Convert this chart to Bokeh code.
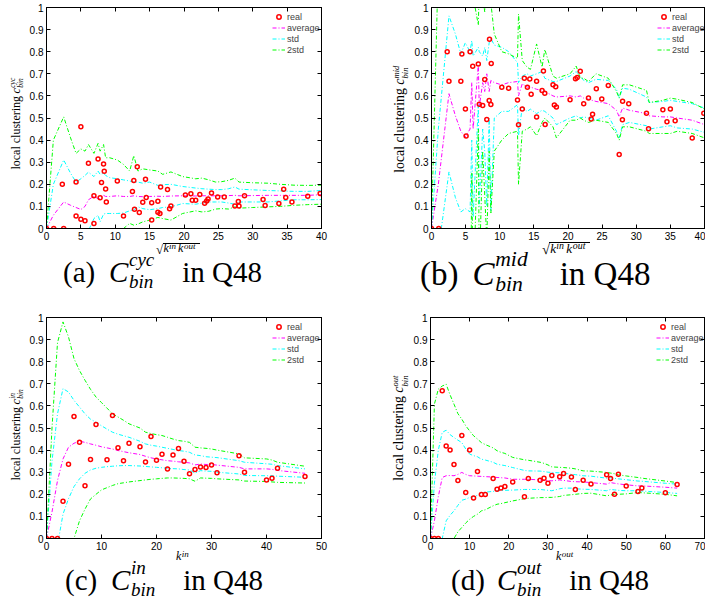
from bokeh.plotting import figure
from bokeh.models import Range1d, FixedTicker, LinearAxis, Legend, LegendItem, Div
from bokeh.layouts import column, row
from bokeh.embed import file_html
from bokeh.resources import INLINE

SANS = "Liberation Sans"
SERIF = "Liberation Serif"

Y_TICKS = [0, 0.1, 0.2, 0.3, 0.4, 0.5, 0.6, 0.7, 0.8, 0.9, 1]
Y_TICK_LABELS = ["0", "0.1", "0.2", "0.3", "0.4", "0.5", "0.6", "0.7", "0.8", "0.9", "1"]
LEGEND_LABELS = ["real", "average", "std", "2std"]

# ---------------- panel (a): C_bin^cyc ----------------
a_xticks = [0, 5, 10, 15, 20, 25, 30, 35, 40]
a_real_x = [0, 1.05, 2.5, 2.3, 4.3, 4.3, 5.0, 5.0, 5.6, 6.1, 6.9, 6.9, 7.5, 7.8, 8.0, 8.3,
            8.4, 8.6, 8.7, 10.3, 11.2, 12.5, 12.7, 12.8, 13.2, 13.5, 14.0, 14.4, 14.5, 15.3,
            15.3, 16.2, 16.2, 16.5, 16.6, 17.6, 17.9, 18.1, 20.2, 21.0, 21.2, 21.7, 22.3, 23.0,
            23.3, 23.5, 24.0, 24.9, 25.85, 27.4, 27.9, 28.0, 28.8, 31.5, 31.8, 33.8, 34.5, 34.8,
            35.7, 38.0, 39.8]
a_real_y = [0, 0, 0, 0.20, 0.21, 0.057, 0.46, 0.042, 0.035, 0.295, 0.148, 0.023, 0.315, 0.139,
            0.208, 0.292, 0.259, 0.179, 0.12, 0.215, 0.057, 0.167, 0.217, 0.087, 0.279, 0.072,
            0.119, 0.223, 0.14, 0.117, 0.038, 0.074, 0.123, 0.068, 0.188, 0.176, 0.089, 0.102,
            0.152, 0.157, 0.128, 0.128, 0.154, 0.114, 0.125, 0.134, 0.161, 0.143, 0.142, 0.102,
            0.122, 0.102, 0.148, 0.131, 0.104, 0.113, 0.178, 0.14, 0.12, 0.146, 0.158]
a_line_x = [0, 1, 2.5, 3.5, 4.3, 5.0, 5.6, 6.1, 6.9, 7.5, 7.8, 8.3, 8.6, 9.2, 10.3, 11.2, 12.1,
            12.7, 13.3, 14.0, 15.0, 16.2, 16.9, 18.1, 19.8, 21.7, 22.6, 23.6, 24.6, 25.5, 26.5,
            27.4, 28.0, 30, 32.2, 34, 36, 38, 40]
a_avg = [0, 0.06, 0.12, 0.105, 0.095, 0.086, 0.10, 0.13, 0.146, 0.135, 0.136, 0.15, 0.145,
         0.145, 0.148, 0.145, 0.145, 0.148, 0.145, 0.144, 0.145, 0.146, 0.145, 0.147, 0.148,
         0.147, 0.148, 0.148, 0.148, 0.148, 0.149, 0.15, 0.148, 0.149, 0.15, 0.15, 0.15, 0.15,
         0.153]
a_std_up = [0, 0.2, 0.31, 0.25, 0.21, 0.225, 0.24, 0.255, 0.235, 0.26, 0.245, 0.25, 0.24, 0.23,
            0.225, 0.22, 0.215, 0.21, 0.21, 0.205, 0.21, 0.195, 0.198, 0.2, 0.19, 0.183, 0.18,
            0.178, 0.176, 0.176, 0.18, 0.188, 0.178, 0.175, 0.172, 0.17, 0.168, 0.168, 0.172]
a_std_lo = [0, -0.08, -0.07, -0.06, -0.04, -0.05, -0.04, -0.01, 0.045, 0.06, 0.03, 0.065, 0.068,
            0.068, 0.068, 0.07, 0.08, 0.085, 0.098, 0.09, 0.085, 0.09, 0.095, 0.098, 0.113, 0.11,
            0.115, 0.12, 0.12, 0.12, 0.115, 0.11, 0.12, 0.12, 0.12, 0.125, 0.13, 0.13, 0.131]
a_2std_up = [0, 0.40, 0.505, 0.41, 0.34, 0.36, 0.35, 0.38, 0.34, 0.385, 0.35, 0.38, 0.32, 0.32,
             0.31, 0.29, 0.26, 0.33, 0.26, 0.27, 0.265, 0.26, 0.245, 0.256, 0.235, 0.225, 0.228,
             0.22, 0.21, 0.212, 0.218, 0.228, 0.21, 0.207, 0.205, 0.2, 0.196, 0.195, 0.196]
a_2std_lo = [0, -0.25, -0.3, -0.25, -0.2, -0.2, -0.18, -0.15, -0.1, -0.08, -0.1, -0.06, -0.05,
             -0.04, -0.02, 0.0, 0.023, 0.015, 0.02, 0.03, 0.038, 0.05, 0.045, 0.038, 0.068, 0.08,
             0.075, 0.078, 0.088, 0.09, 0.088, 0.098, 0.092, 0.095, 0.098, 0.1, 0.105, 0.108, 0.11]

# ---------------- panel (b): C_bin^mid ----------------
b_xticks = [0, 5, 10, 15, 20, 25, 30, 35, 40]
b_real_x = [0, 1.06, 2.3, 2.56, 4.3, 4.45, 4.97, 5.07, 5.65, 6.04, 6.86, 7.0, 7.5, 7.8, 8.1,
            8.45, 8.5, 8.7, 8.75, 10.3, 11.3, 12.6, 12.75, 13.3, 13.6, 14.05, 14.4, 14.6, 15.4,
            15.4, 16.2, 16.4, 16.6, 16.65, 17.8, 18.0, 18.2, 18.3, 20.3, 21.1, 21.35, 21.8, 22.3,
            23.0, 23.4, 23.6, 24.15, 24.95, 25.9, 27.5, 27.97, 28.0, 28.9, 31.5, 31.8, 33.9,
            35.0, 34.5, 35.7, 38.2, 39.9]
b_real_y = [0, 0, 0.80, 0.666, 0.666, 0.79, 0.541, 0.418, 0.80, 0.734, 0.744, 0.562, 0.556,
            0.674, 0.493, 0.579, 0.856, 0.561, 0.747, 0.639, 0.635, 0.582, 0.469, 0.541, 0.68,
            0.639, 0.677, 0.607, 0.666, 0.504, 0.624, 0.713, 0.612, 0.471, 0.65, 0.559, 0.641,
            0.55, 0.583, 0.678, 0.683, 0.711, 0.565, 0.591, 0.495, 0.517, 0.632, 0.586, 0.647,
            0.335, 0.492, 0.576, 0.564, 0.522, 0.451, 0.537, 0.541, 0.483, 0.487, 0.409, 0.522]
b_line_x = [0, 1, 2.56, 3.5, 4.3, 4.95, 5.65, 5.9, 6.1, 6.86, 7.0, 7.5, 7.8, 8.1, 8.45, 8.7,
            9.2, 10.3, 11.3, 12.6, 12.75, 13.3, 14.0, 14.5, 15.4, 16.2, 16.6, 17.8, 18.3, 20.3,
            21.2, 21.8, 22.3, 23.0, 24.1, 25.9, 27.1, 27.5, 28.0, 29.0, 31.5, 31.9, 33.9, 35.0,
            36.0, 38.2, 40]
b_avg = [0, 0.2, 0.61, 0.51, 0.44, 0.415, 0.45, 0.66, 0.45, 0.74, 0.55, 0.66, 0.62, 0.70, 0.62,
         0.67, 0.66, 0.65, 0.66, 0.665, 0.60, 0.655, 0.64, 0.64, 0.63, 0.625, 0.62, 0.60, 0.595,
         0.60, 0.595, 0.60, 0.59, 0.585, 0.575, 0.565, 0.535, 0.505, 0.545, 0.535, 0.52, 0.51,
         0.505, 0.505, 0.50, 0.49, 0.47]
b_std_up = [0, 0.45, 0.962, 0.88, 0.79, 0.84, 0.80, 0.85, 0.78, 0.82, 0.80, 0.78, 0.82, 0.76,
            0.84, 0.86, 0.83, 0.82, 0.80, 0.75, 0.66, 0.69, 0.70, 0.69, 0.70, 0.71, 0.68, 0.665,
            0.665, 0.69, 0.71, 0.69, 0.67, 0.66, 0.675, 0.67, 0.63, 0.59, 0.635, 0.63, 0.595,
            0.57, 0.575, 0.58, 0.575, 0.565, 0.545]
b_std_lo = [0, -0.1, 0.256, 0.14, 0.075, 0.09, 0.075, 0.40, 0.05, 0.56, 0.10, 0.45, 0.35, 0.10,
            0.50, 0.08, 0.50, 0.53, 0.53, 0.56, 0.42, 0.55, 0.53, 0.54, 0.52, 0.535, 0.53, 0.50,
            0.47, 0.50, 0.51, 0.50, 0.505, 0.50, 0.49, 0.51, 0.44, 0.41, 0.47, 0.48, 0.465, 0.45,
            0.46, 0.465, 0.455, 0.45, 0.435]
b_2std_up = [0, 1.2, 1.35, 1.25, 1.1, 1.15, 1.1, 1.1, 1.05, 0.92, 1.1, 1.05, 0.98, 1.1, 1.05,
             1.02, 0.88, 0.80, 0.79, 0.77, 0.97, 0.76, 0.73, 0.72, 0.835, 0.73, 0.81, 0.69, 0.68,
             0.70, 0.735, 0.68, 0.68, 0.665, 0.70, 0.68, 0.62, 0.59, 0.65, 0.65, 0.625, 0.57,
             0.58, 0.59, 0.585, 0.57, 0.54]
b_2std_lo = [0, -0.3, -0.45, -0.6, -0.65, -0.6, -0.65, 0.25, -0.3, 0.45, -0.2, 0.35, 0.15,
             -0.05, 0.35, 0.07, 0.35, 0.40, 0.43, 0.44, 0.20, 0.44, 0.45, 0.46, 0.42, 0.48, 0.50,
             0.46, 0.41, 0.49, 0.49, 0.50, 0.49, 0.48, 0.49, 0.48, 0.43, 0.40, 0.46, 0.46, 0.44,
             0.43, 0.43, 0.43, 0.44, 0.43, 0.41]

# ---------------- panel (c): C_bin^in ----------------
c_xticks = [0, 10, 20, 30, 40, 50]
c_real_x = [0, 1, 2, 3, 4, 5, 6, 7, 8, 9, 11, 12, 13, 14, 15, 17, 18, 19, 20, 21, 22, 23, 24,
            25, 26, 27, 28, 29, 30, 31, 35, 36, 40, 41, 42, 47]
c_real_y = [0, 0, 0, 0.168, 0.336, 0.552, 0.436, 0.239, 0.358, 0.516, 0.356, 0.557, 0.411,
            0.352, 0.431, 0.415, 0.346, 0.461, 0.354, 0.381, 0.315, 0.378, 0.407, 0.349, 0.293,
            0.312, 0.324, 0.321, 0.333, 0.298, 0.375, 0.30, 0.265, 0.273, 0.318, 0.281]
c_line_x = [0, 1, 2, 3, 4, 5, 6, 7, 8, 9, 10, 11, 12, 13, 14, 15, 17, 18, 19, 20, 21, 22, 23,
            24, 25, 26, 27, 28, 29, 30, 31, 35, 36, 40, 41, 42, 47]
c_avg = [0, 0.12, 0.262, 0.36, 0.413, 0.431, 0.44, 0.435, 0.428, 0.422, 0.415, 0.41, 0.405,
         0.398, 0.393, 0.388, 0.38, 0.372, 0.365, 0.36, 0.356, 0.352, 0.35, 0.347, 0.345, 0.342,
         0.333, 0.337, 0.335, 0.335, 0.332, 0.322, 0.315, 0.315, 0.313, 0.308, 0.295]
c_std_up = [0, 0.35, 0.564, 0.678, 0.663, 0.625, 0.595, 0.564, 0.54, 0.526, 0.51, 0.495, 0.481,
            0.472, 0.465, 0.458, 0.44, 0.428, 0.422, 0.418, 0.413, 0.408, 0.403, 0.398, 0.395,
            0.39, 0.378, 0.375, 0.37, 0.368, 0.366, 0.352, 0.345, 0.338, 0.336, 0.33, 0.315]
c_std_lo = [0, -0.1, -0.03, 0.11, 0.18, 0.235, 0.27, 0.295, 0.31, 0.318, 0.322, 0.325, 0.327,
            0.329, 0.33, 0.33, 0.328, 0.326, 0.324, 0.322, 0.32, 0.318, 0.316, 0.315, 0.312,
            0.31, 0.296, 0.307, 0.305, 0.304, 0.30, 0.292, 0.285, 0.284, 0.284, 0.282, 0.277]
c_2std_up = [0, 0.5, 0.886, 0.98, 0.912, 0.814, 0.76, 0.716, 0.675, 0.64, 0.615, 0.59, 0.564,
             0.55, 0.535, 0.519, 0.50, 0.481, 0.475, 0.47, 0.466, 0.458, 0.45, 0.443, 0.44,
             0.435, 0.413, 0.41, 0.408, 0.405, 0.40, 0.383, 0.365, 0.36, 0.355, 0.345, 0.327]
c_2std_lo = [0, -0.4, -0.4, -0.25, -0.1, 0.0, 0.08, 0.133, 0.179, 0.2, 0.22, 0.23, 0.24, 0.248,
             0.252, 0.256, 0.262, 0.265, 0.268, 0.27, 0.272, 0.274, 0.274, 0.273, 0.272, 0.27,
             0.259, 0.274, 0.273, 0.272, 0.27, 0.265, 0.26, 0.258, 0.256, 0.254, 0.251]

# ---------------- panel (d): C_bin^out ----------------
d_xticks = [0, 10, 20, 30, 40, 50, 60, 70]
d_real_x = [0, 1, 2, 3, 4, 5, 6, 7, 8, 9, 10, 11, 12, 13, 14, 16, 17, 18, 19, 21, 24, 25, 28,
            29, 30, 31, 33, 34, 36, 37, 39, 41, 45, 46, 47, 48, 50, 53, 54, 60, 63]
d_real_y = [0, 0, 0, 0.668, 0.418, 0.401, 0.335, 0.262, 0.466, 0.208, 0.401, 0.183, 0.303,
            0.199, 0.199, 0.271, 0.223, 0.229, 0.235, 0.256, 0.189, 0.271, 0.264, 0.273, 0.25,
            0.285, 0.279, 0.294, 0.278, 0.222, 0.264, 0.247, 0.288, 0.271, 0.2, 0.291, 0.237,
            0.213, 0.228, 0.207, 0.244]
d_line_x = [0, 1, 2, 3, 4, 5, 6, 7, 8, 9, 10, 11, 12, 13, 14, 16, 17, 18, 19, 21, 24, 25, 28,
            29, 30, 31, 33, 34, 36, 37, 39, 41, 45, 46, 47, 48, 50, 53, 54, 60, 63]
d_avg = [0, 0.08, 0.19, 0.276, 0.284, 0.285, 0.284, 0.29, 0.299, 0.29, 0.284, 0.283, 0.282,
         0.281, 0.28, 0.278, 0.276, 0.275, 0.274, 0.268, 0.268, 0.268, 0.265, 0.263, 0.262,
         0.261, 0.265, 0.263, 0.258, 0.257, 0.256, 0.253, 0.246, 0.253, 0.25, 0.247, 0.243,
         0.238, 0.238, 0.232, 0.228]
d_std_up = [0, 0.25, 0.4, 0.48, 0.49, 0.47, 0.457, 0.445, 0.434, 0.405, 0.382, 0.375, 0.37,
            0.359, 0.355, 0.345, 0.336, 0.333, 0.33, 0.321, 0.308, 0.306, 0.305, 0.303, 0.30,
            0.299, 0.297, 0.296, 0.29, 0.289, 0.284, 0.282, 0.273, 0.275, 0.272, 0.27, 0.266,
            0.26, 0.259, 0.25, 0.246]
d_std_lo = [0, -0.1, -0.05, 0.0, 0.08, 0.105, 0.125, 0.15, 0.173, 0.178, 0.186, 0.19, 0.195,
            0.208, 0.21, 0.213, 0.216, 0.217, 0.218, 0.219, 0.222, 0.222, 0.222, 0.22, 0.218,
            0.216, 0.225, 0.228, 0.228, 0.225, 0.223, 0.222, 0.216, 0.222, 0.22, 0.218, 0.216,
            0.216, 0.215, 0.208, 0.204]
d_2std_up = [0, 0.608, 0.676, 0.69, 0.698, 0.65, 0.608, 0.565, 0.54, 0.51, 0.487, 0.465, 0.45,
             0.434, 0.425, 0.41, 0.397, 0.39, 0.385, 0.367, 0.356, 0.354, 0.345, 0.34, 0.333,
             0.324, 0.322, 0.321, 0.318, 0.315, 0.306, 0.305, 0.299, 0.296, 0.293, 0.288, 0.283,
             0.276, 0.273, 0.26, 0.253]
d_2std_lo = [0, -0.4, -0.35, -0.3, -0.15, -0.07, 0.0, 0.03, 0.05, 0.07, 0.087, 0.1, 0.11, 0.125,
             0.13, 0.148, 0.155, 0.158, 0.162, 0.17, 0.18, 0.182, 0.185, 0.185, 0.186, 0.186,
             0.19, 0.195, 0.198, 0.2, 0.204, 0.205, 0.193, 0.197, 0.2, 0.2, 0.202, 0.208, 0.207,
             0.2, 0.193]

DASH = "4 2 1 2"


def span(x, yb, text, size, italic=False, rotate=False, lh=0.75):
    """HTML text piece whose baseline starts at (x, yb) in the Div's own pixels."""
    base = (lh + 0.675) / 2 * size   # baseline offset of Liberation Serif in its line box
    top = yb - base
    st = (f"position:absolute;left:{x:.2f}px;top:{top:.2f}px;font-family:'{SERIF}';"
          f"font-size:{size:.2f}px;line-height:{lh};white-space:nowrap;color:black;"
          f"font-style:{'italic' if italic else 'normal'};")
    if rotate:
        st += f"transform-origin:0px {base:.2f}px;transform:rotate(-90deg);"
    return f'<span style="{st}">{text}</span>'


def hbar(x0, x1, y, th):
    return (f'<span style="position:absolute;left:{x0:.2f}px;top:{y:.2f}px;'
            f'width:{x1 - x0:.2f}px;height:{th:.2f}px;background:black;"></span>')


def box(w, h, parts):
    html = f'<div style="position:relative;width:{w}px;height:{h}px;">' + "".join(parts) + "</div>"
    return Div(text=html, width=w, height=h, margin=0)


def ylabel_div(w, h, bx, y0, sup, sub, s=1.0):
    f = 12 * s
    fs = 7.5 * s
    w_main = 6.388 * f
    parts = [span(bx, y0, "local clustering", f, rotate=True),
             span(bx, y0 - w_main, "c", f, italic=True, rotate=True),
             span(bx - 5.0 * s, y0 - w_main - 5.6 * s, sup, fs, italic=True, rotate=True, lh=0.6),
             span(bx + 3.4 * s, y0 - w_main - 5.6 * s, sub, fs, italic=True, rotate=True, lh=0.6)]
    return box(w, h, parts)


def caption_parts(x0, yb, letter, sup, sup_w, s=1.0):
    f = 29 * s
    fs = 19 * s
    w = max(sup_w, 1.278) * fs
    return [span(x0, yb, f"({letter})", f),
            span(x0 + 46 * s, yb, "C", f, italic=True),
            span(x0 + 66 * s, yb - 17 * s, sup, fs, italic=True, lh=0.6),
            span(x0 + 66 * s, yb + 5 * s, "bin", fs, italic=True, lh=0.6),
            span(x0 + 94 * s + w, yb, "in Q48", f)]


def sqrt_parts(x0, yb, s=1.0):
    return [span(x0, yb + 1 * s, "\u221a", 13 * s, lh=0.6),
            hbar(x0 + 6.5 * s, x0 + 44 * s, yb - 10.3 * s, 1.0 * s),
            span(x0 + 7.6 * s, yb, "k", 12 * s, italic=True),
            span(x0 + 13 * s, yb - 3.5 * s, "in", 9 * s, italic=True, lh=0.6),
            span(x0 + 22 * s, yb, "k", 12 * s, italic=True),
            span(x0 + 28 * s, yb - 3.5 * s, "out", 9 * s, italic=True, lh=0.6)]


def k_parts(x0, yb, sup):
    return [span(x0, yb, "k", 12, italic=True),
            span(x0 + 5.8, yb - 3.5, sup, 9, italic=True, lh=0.6)]


def panel(width, height, bl, br, bt, bb, xmax, xticks, rx, ry, lx, avg, sup, slo, s2up, s2lo):
    p = figure(width=width, height=height, x_range=Range1d(0, xmax), y_range=Range1d(0, 1),
               output_backend="svg", toolbar_location=None,
               min_border_left=bl, min_border_right=br, min_border_top=bt,
               min_border_bottom=bb, background_fill_color="white",
               border_fill_color="white")
    p.xgrid.visible = False
    p.ygrid.visible = False
    p.outline_line_color = "black"
    p.outline_line_width = 1
    for ax, ticks, labels in ((p.xaxis[0], xticks, None), (p.yaxis[0], Y_TICKS, Y_TICK_LABELS)):
        ax.ticker = FixedTicker(ticks=ticks)
        if labels:
            ax.major_label_overrides = {t: s for t, s in zip(ticks, labels)}
        ax.major_tick_in = 4
        ax.major_tick_out = 0
        ax.minor_tick_line_color = None
        ax.axis_line_color = "black"
        ax.major_tick_line_color = "black"
        ax.major_label_text_font = SANS
        ax.major_label_text_font_size = "10px"
        ax.major_label_text_color = "black"
        ax.major_label_standoff = 3
    top = LinearAxis(ticker=FixedTicker(ticks=xticks),
                     major_label_overrides={t: "" for t in xticks},
                     major_tick_in=4, major_tick_out=0, minor_tick_line_color=None,
                     major_label_standoff=0, major_label_text_font_size="1px")
    right = LinearAxis(ticker=FixedTicker(ticks=Y_TICKS),
                       major_label_overrides={t: "" for t in Y_TICKS},
                       major_tick_in=4, major_tick_out=0, minor_tick_line_color=None,
                       major_label_standoff=0, major_label_text_font_size="1px")
    p.add_layout(top, "above")
    p.add_layout(right, "right")

    r_avg = p.line(lx, avg, line_color="#ff00ff", line_width=1, line_dash=DASH)
    r_su = p.line(lx, sup, line_color="#00ffff", line_width=1, line_dash=DASH)
    p.line(lx, slo, line_color="#00ffff", line_width=1, line_dash=DASH)
    r_2u = p.line(lx, s2up, line_color="#00ff00", line_width=1, line_dash=DASH)
    p.line(lx, s2lo, line_color="#00ff00", line_width=1, line_dash=DASH)
    r_pts = p.scatter(rx, ry, marker="circle", size=4, fill_color=None,
                      line_color="#ff0000", line_width=1.5)

    legend = Legend(items=[LegendItem(label=LEGEND_LABELS[0], renderers=[r_pts]),
                           LegendItem(label=LEGEND_LABELS[1], renderers=[r_avg]),
                           LegendItem(label=LEGEND_LABELS[2], renderers=[r_su]),
                           LegendItem(label=LEGEND_LABELS[3], renderers=[r_2u])],
                    location=(226, 173), border_line_color=None, background_fill_alpha=0,
                    label_text_font=SANS, label_text_font_size="9px", glyph_width=13,
                    glyph_height=11, label_height=11, spacing=0, padding=0, margin=0,
                    label_standoff=2)
    p.add_layout(legend)
    return p


# column widths: [y-label strip | figure]
WA, WB, WC, WD = 26, 59, 26, 58
H1, H2 = 244, 250   # figure heights (rows 1, 2)

pa = panel(352 - WA, H1, 17, 31, 7, 16, 40, a_xticks, a_real_x, a_real_y, a_line_x,
           a_avg, a_std_up, a_std_lo, a_2std_up, a_2std_lo)
pb = panel(353 - WB, H1, 17, 1, 7, 16, 40, b_xticks, b_real_x, b_real_y, b_line_x,
           b_avg, b_std_up, b_std_lo, b_2std_up, b_2std_lo)
pc = panel(352 - WC, H2, 17, 31, 13, 16, 50, c_xticks, c_real_x, c_real_y, c_line_x,
           c_avg, c_std_up, c_std_lo, c_2std_up, c_2std_lo)
pd = panel(353 - WD, H2, 17, 1, 13, 16, 70, d_xticks, d_real_x, d_real_y, d_line_x,
           d_avg, d_std_up, d_std_lo, d_2std_up, d_2std_lo)

# y-label strips (coordinates local to each strip)
ya = ylabel_div(WA, 304, 20.5, 170, "cyc", "bin")
yb = ylabel_div(WB, 304, 52.5, 173, "mid", "bin", s=1.15)
yc = ylabel_div(WC, 304, 20.5, 177, "in", "bin")
yd = ylabel_div(WD, 304, 52.0, 177, "out", "bin", s=1.15)

# x-label + caption strips under each figure (local coords: page minus strip origin)
oxa, oya = WA, H1
oxb, oyb = 352 + WB, H1
oxc, oyc = WC, 304 + H2
oxd, oyd = 352 + WD, 304 + H2

ba = box(352 - WA, 304 - H1,
         sqrt_parts(156 - oxa, 253 - oya) +
         caption_parts(63 - oxa, 283 - oya, "a", "cyc", 1.332))
bb = box(353 - WB, 304 - H1,
         sqrt_parts(542 - oxb, 253 - oyb, s=1.1) +
         caption_parts(420 - oxb, 286 - oyb, "b", "mid", 1.5, s=1.14))
bc = box(352 - WC, 304 - H2,
         k_parts(176 - oxc, 561 - oyc, "in") +
         caption_parts(65 - oxc, 591 - oyc, "c", "in", 0.778))
bd = box(353 - WD, 304 - H2,
         k_parts(556 - oxd, 561 - oyd, "out") +
         caption_parts(451 - oxd, 591 - oyd, "d", "out", 1.278))

layout = column(
    row(ya, column(pa, ba), yb, column(pb, bb)),
    row(yc, column(pc, bc), yd, column(pd, bd)),
)
open("out.html", "w").write(file_html(layout, INLINE))
